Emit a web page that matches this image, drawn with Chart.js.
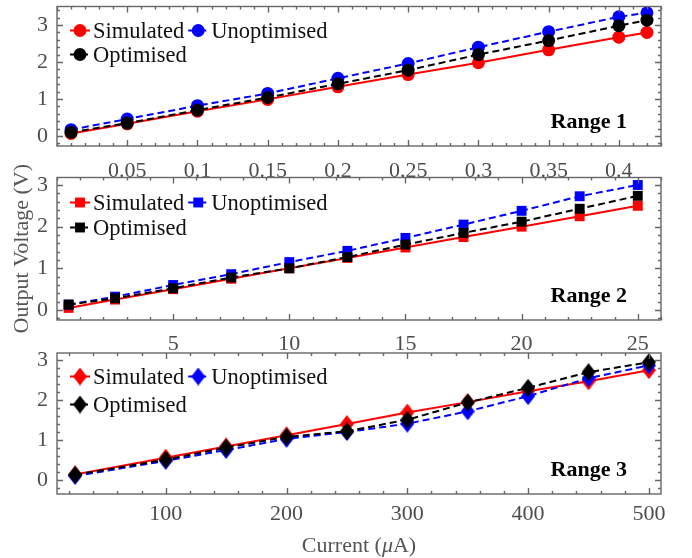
<!DOCTYPE html>
<html>
<head>
<meta charset="utf-8">
<script src="https://cdn.jsdelivr.net/npm/chart.js@4.4.1/dist/chart.umd.min.js"></script>
<style>
  body { margin: 0; background: #fff; }
  #wrap { position: relative; width: 692px; height: 558px; }
  canvas { position: absolute; left: 0; }
</style>
</head>
<body>
<div id="wrap">
  <canvas id="range1" width="692" height="180" style="top:0px"></canvas>
  <canvas id="range2" width="692" height="205" style="top:150px"></canvas>
  <canvas id="range3" width="692" height="213" style="top:345px"></canvas>
</div>
<script>
// Range 1 (current in uA, 0 - 0.42)
var r1Current = [0.01, 0.05, 0.1, 0.15, 0.2, 0.25, 0.3, 0.35, 0.4, 0.42];
var r1Simulated = [0.07, 0.33, 0.67, 0.99, 1.33, 1.66, 1.98, 2.33, 2.67, 2.8];
var r1Unoptimised = [0.17, 0.46, 0.82, 1.15, 1.56, 1.96, 2.4, 2.82, 3.22, 3.33];
var r1Optimised = [0.1, 0.35, 0.7, 1.04, 1.41, 1.78, 2.2, 2.58, 2.98, 3.13];
var r1Ticks = [0.05, 0.1, 0.15, 0.2, 0.25, 0.3, 0.35, 0.4];

// Range 2
var r2Current = [0.5, 2.5, 5, 7.5, 10, 12.5, 15, 17.5, 20, 22.5, 25];
var r2Simulated = [0.05, 0.25, 0.5, 0.75, 1.0, 1.25, 1.5, 1.75, 2.0, 2.25, 2.5];
var r2Unoptimised = [0.13, 0.32, 0.6, 0.86, 1.15, 1.42, 1.73, 2.05, 2.38, 2.73, 3.0];
var r2Optimised = [0.13, 0.28, 0.52, 0.78, 1.0, 1.27, 1.57, 1.85, 2.12, 2.43, 2.74];
var r2Ticks = [5, 10, 15, 20, 25];

// Range 3
var r3Current = [25, 100, 150, 200, 250, 300, 350, 400, 450, 500];
var r3Simulated = [0.14, 0.56, 0.84, 1.12, 1.4, 1.69, 1.95, 2.22, 2.47, 2.75];
var r3Unoptimised = [0.1, 0.48, 0.75, 1.03, 1.2, 1.41, 1.72, 2.1, 2.55, 2.87];
var r3Optimised = [0.13, 0.51, 0.81, 1.08, 1.22, 1.51, 1.94, 2.31, 2.7, 2.95];
var r3Ticks = [100, 200, 300, 400, 500];

var voltTicks = [0, 1, 2, 3];

Chart.defaults.font.family = '"Liberation Serif", "Times New Roman", serif';
Chart.defaults.font.size = 22;
Chart.defaults.color = '#555';

function diamond(color) {
  var c = document.createElement('canvas');
  c.width = 14; c.height = 18;
  var g = c.getContext('2d');
  g.fillStyle = color;
  g.beginPath();
  g.moveTo(7, 0); g.lineTo(14, 9); g.lineTo(7, 18); g.lineTo(0, 9);
  g.closePath();
  g.fill();
  return c;
}

function pairs(xs, ys) {
  return xs.map(function(x, i) { return {x: x, y: ys[i]}; });
}

function drawMarker(ctx, d, x, y) {
  ctx.fillStyle = d.pointBackgroundColor;
  if (d.pointStyle instanceof HTMLCanvasElement) {
    ctx.drawImage(d.pointStyle, x - d.pointStyle.width / 2, y - d.pointStyle.height / 2);
  } else if (d.pointStyle === 'rect') {
    var s = Math.SQRT1_2 * d.pointRadius;
    ctx.fillRect(x - s, y - s, 2 * s, 2 * s);
  } else {
    ctx.beginPath();
    ctx.arc(x, y, d.pointRadius, 0, Math.PI * 2);
    ctx.fill();
  }
}

// frame with inward ticks, legend inside, range label
var framePlugin = {
  id: 'frame',
  afterDatasetsDraw: function(chart, args, opts) {
    var ctx = chart.ctx, a = chart.chartArea;
    var xs = chart.scales.x, ys = chart.scales.y;
    ctx.save();
    ctx.strokeStyle = '#666';
    ctx.lineWidth = 1.4;
    ctx.strokeRect(a.left, a.top, a.right - a.left, a.bottom - a.top);

    ctx.beginPath();
    var k, v, p, len;
    for (k = Math.ceil(xs.min / opts.xMinor - 1e-9); k * opts.xMinor <= xs.max + 1e-9; k++) {
      v = k * opts.xMinor;
      len = opts.xMajor.some(function(m) { return Math.abs(m - v) < 1e-9; }) ? 6 : 3;
      p = Math.round(xs.getPixelForValue(v)) + 0.5;
      ctx.moveTo(p, a.bottom); ctx.lineTo(p, a.bottom - len);
      ctx.moveTo(p, a.top); ctx.lineTo(p, a.top + len);
    }
    for (k = Math.ceil(ys.min / 0.2 - 1e-9); k * 0.2 <= ys.max + 1e-9; k++) {
      v = k * 0.2;
      len = Math.abs(v - Math.round(v)) < 1e-9 ? 6 : 3;
      p = Math.round(ys.getPixelForValue(v)) + 0.5;
      ctx.moveTo(a.left, p); ctx.lineTo(a.left + len, p);
      ctx.moveTo(a.right, p); ctx.lineTo(a.right - len, p);
    }
    ctx.stroke();

    // legend
    var ds = chart.data.datasets;
    ctx.font = '22.5px "Liberation Serif"';
    var x0 = a.left + 13;
    var row1 = a.top + opts.legendTop;
    var spots = [
      [x0, row1],
      [x0 + 23 + ctx.measureText(ds[0].label).width + 4, row1],
      [x0, row1 + opts.legendGap]
    ];
    ds.forEach(function(d, i) {
      var px = spots[i][0], py = spots[i][1];
      ctx.strokeStyle = d.borderColor;
      ctx.lineWidth = 2;
      ctx.setLineDash(d.borderDash || []);
      ctx.beginPath(); ctx.moveTo(px, py); ctx.lineTo(px + 20, py); ctx.stroke();
      ctx.setLineDash([]);
      drawMarker(ctx, d, px + 10, py);
      ctx.fillStyle = '#111';
      ctx.textAlign = 'left';
      ctx.textBaseline = 'alphabetic';
      ctx.fillText(d.label, px + 23, py + 7);
    });

    // range label
    ctx.font = 'bold 22px "Liberation Serif"';
    ctx.fillStyle = '#000';
    ctx.textAlign = 'right';
    ctx.fillText(opts.rangeText, a.right - 34, a.bottom - 18);

    // x title with italic mu
    if (opts.xTitle) {
      var parts = [['Current (', 'normal'], ['\u03bc', 'italic'], ['A)', 'normal']];
      var total = 0;
      parts.forEach(function(pt) {
        ctx.font = pt[1] + ' 22px "Liberation Serif"';
        pt.push(ctx.measureText(pt[0]).width);
        total += pt[2];
      });
      var tx = (a.left + a.right) / 2 - total / 2;
      ctx.fillStyle = '#555';
      ctx.textAlign = 'left';
      parts.forEach(function(pt) {
        ctx.font = pt[1] + ' 22px "Liberation Serif"';
        ctx.fillText(pt[0], tx, a.bottom + 58);
        tx += pt[2];
      });
    }
    ctx.restore();
  }
};

function makePanel(id, cfg) {
  return new Chart(document.getElementById(id), {
    type: 'line',
    data: {
      datasets: [
        { label: 'Simulated', data: pairs(cfg.current, cfg.sim), borderColor: '#ff0000',
          pointBackgroundColor: '#ff0000', borderWidth: 2, order: 2 },
        { label: 'Unoptimised', data: pairs(cfg.current, cfg.unopt), borderColor: '#0000ff',
          pointBackgroundColor: '#0000ff', borderWidth: 2, borderDash: [7, 4], order: 1 },
        { label: 'Optimised', data: pairs(cfg.current, cfg.opt), borderColor: '#000000',
          pointBackgroundColor: '#000000', borderWidth: 2, borderDash: [7, 4], order: 0 }
      ].map(function(d, i) {
        d.pointStyle = cfg.marker[i];
        d.pointRadius = cfg.radius;
        d.pointHoverRadius = cfg.radius;
        d.pointBorderWidth = 0;
        d.tension = 0;
        d.clip = false;
        return d;
      })
    },
    options: {
      responsive: false,
      animation: false,
      events: [],
      layout: { padding: { left: 0, right: 31, top: cfg.padTop, bottom: 0 } },
      plugins: {
        legend: { display: false },
        tooltip: { enabled: false },
        frame: { xMinor: cfg.xMinor, xMajor: cfg.ticks, legendTop: cfg.legendTop,
                 legendGap: cfg.legendGap, rangeText: cfg.rangeText, xTitle: cfg.xTitle }
      },
      scales: {
        x: {
          type: 'linear', min: cfg.xMin, max: cfg.xMax,
          grid: { display: false, drawTicks: false }, border: { display: false },
          ticks: { padding: cfg.xPad, color: '#4d4d4d', callback: function(v) { return String(v); } },
          afterBuildTicks: function(s) { s.ticks = cfg.ticks.map(function(v) { return {value: v}; }); },
          afterFit: function(s) {
            s.height = cfg.xHeight;
            s.paddingLeft = 0; s.paddingRight = 0; s.paddingTop = 0; s.paddingBottom = 0;
          }
        },
        y: {
          min: cfg.yMin, max: cfg.yMax,
          grid: { display: false, drawTicks: false }, border: { display: false },
          ticks: { padding: 9, color: '#4d4d4d' },
          afterBuildTicks: function(s) { s.ticks = voltTicks.map(function(v) { return {value: v}; }); },
          afterFit: function(s) {
            s.width = 57;
            s.paddingLeft = 0; s.paddingRight = 0; s.paddingTop = 0; s.paddingBottom = 0;
          },
          title: { display: !!cfg.yTitle, text: cfg.yTitle || '', color: '#555', padding: { top: 9, bottom: 0 } }
        }
      }
    },
    plugins: [framePlugin]
  });
}

makePanel('range1', {
  current: r1Current, sim: r1Simulated, unopt: r1Unoptimised, opt: r1Optimised, ticks: r1Ticks,
  marker: ['circle', 'circle', 'circle'], radius: 6.5,
  xMin: 0, xMax: 0.43, xMinor: 0.01, yMin: -0.27, yMax: 3.5,
  padTop: 5, xHeight: 34, xPad: 12, legendTop: 24, legendGap: 24, rangeText: 'Range 1'
});

makePanel('range2', {
  current: r2Current, sim: r2Simulated, unopt: r2Unoptimised, opt: r2Optimised, ticks: r2Ticks,
  marker: ['rect', 'rect', 'rect'], radius: 7,
  xMin: 0, xMax: 26, xMinor: 1, yMin: -0.24, yMax: 3.18,
  padTop: 27.5, xHeight: 35, xPad: 11, legendTop: 25, legendGap: 25, rangeText: 'Range 2',
  yTitle: 'Output Voltage (V)'
});

makePanel('range3', {
  current: r3Current, sim: r3Simulated, unopt: r3Unoptimised, opt: r3Optimised, ticks: r3Ticks,
  marker: [diamond('#ff0000'), diamond('#0000ff'), diamond('#000000')], radius: 8,
  xMin: 10, xMax: 510, xMinor: 20, yMin: -0.35, yMax: 3.18,
  padTop: 6.5, xHeight: 64, xPad: 7, legendTop: 23.5, legendGap: 28, rangeText: 'Range 3',
  xTitle: true
});
</script>
</body>
</html>
